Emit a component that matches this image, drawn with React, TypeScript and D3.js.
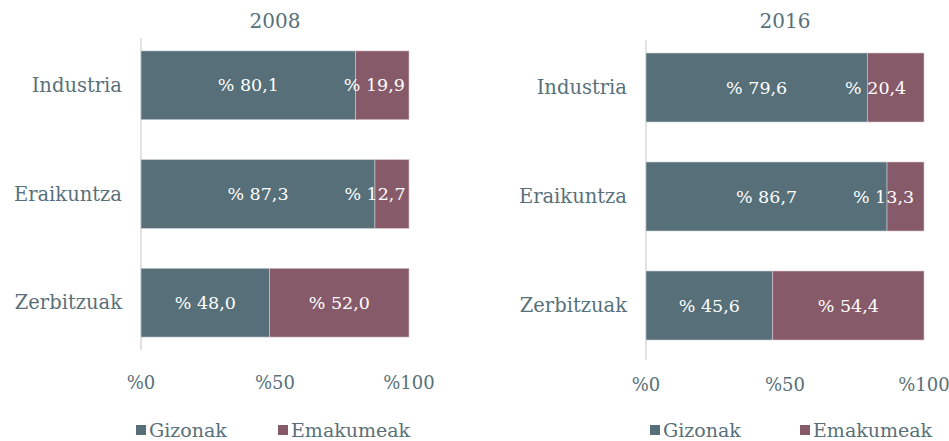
import React from "react";
import * as d3 from "d3";

const categories = ["Industria", "Eraikuntza", "Zerbitzuak"];
const years = ["2008", "2016"];
const men2008 = [80.1, 87.3, 48.0];
const women2008 = [19.9, 12.7, 52.0];
const men2016 = [79.6, 86.7, 45.6];
const women2016 = [20.4, 13.3, 54.4];
const tickValues = [0, 50, 100];
const seriesNames = ["Gizonak", "Emakumeak"];
const colors = ["#566f78", "#875a6a"];
const textColor = "#587079";
const font = "'DejaVu Serif', serif";

const fmt = (v: number) => "% " + v.toFixed(1).replace(".", ",");

type PanelProps = {
  title: string;
  men: number[];
  women: number[];
  labelShift: number[];
  x0: number;
  x1: number;
  yTop: number;
  yBottom: number;
  axisTop: number;
  axisBottom: number;
  tickY: number;
  legendY: number;
  legendX: number[];
};

function Panel(p: PanelProps) {
  const x = d3.scaleLinear().domain([0, 100]).range([p.x0, p.x1]);
  const y = d3.scaleBand().domain(categories).range([p.yTop, p.yBottom]).paddingInner(0.367).paddingOuter(0.2);
  const bh = y.bandwidth();
  return (
    <g>
      <text x={(p.x0 + p.x1) / 2} y={28} textAnchor="middle" fontSize={20} fill={textColor}>{p.title}</text>
      <line x1={p.x0} x2={p.x0} y1={p.axisTop} y2={p.axisBottom} stroke="#d9d9d9" strokeWidth={1.5} />
      {categories.map((c, i) => {
        const yy = y(c)!;
        const m = p.men[i];
        const w = p.women[i];
        return (
          <g key={c}>
            <rect x={x(0)} y={yy} width={x(m) - x(0)} height={bh} fill={colors[0]} stroke="#c9d3d6" strokeWidth={0.6} />
            <rect x={x(m)} y={yy} width={x(m + w) - x(m)} height={bh} fill={colors[1]} stroke="#d8c6cc" strokeWidth={0.6} />
            <text x={(x(0) + x(m)) / 2} y={yy + bh / 2} dy="0.35em" textAnchor="middle" fontSize={17.5} fill="#ffffff">{fmt(m)}</text>
            <text x={(x(m) + x(m + w)) / 2 + p.labelShift[i]} y={yy + bh / 2} dy="0.35em" textAnchor="middle" fontSize={17.5} fill="#ffffff">{fmt(w)}</text>
            <text x={p.x0 - 19} y={yy + bh / 2} dy="0.35em" textAnchor="end" fontSize={19.5} fill={textColor}>{c}</text>
          </g>
        );
      })}
      {tickValues.map((t) => (
        <text key={t} x={x(t)} y={p.tickY} dy="0.35em" textAnchor="middle" fontSize={18} fill={textColor}>{"%" + t}</text>
      ))}
      {seriesNames.map((s, i) => (
        <g key={s}>
          <rect x={p.legendX[i]} y={p.legendY - 5} width={10} height={10} fill={colors[i]} />
          <text x={p.legendX[i] + 13} y={p.legendY} dy="0.35em" fontSize={19} fill={textColor}>{s}</text>
        </g>
      ))}
    </g>
  );
}

export default function App() {
  return (
    <svg width={949} height={441} style={{ position: "absolute", left: 0, top: 0, fontFamily: font, background: "#fff" }}>
      <Panel title={years[0]} men={men2008} women={women2008} labelShift={[-8, -17, 0]} x0={141} x1={409} yTop={29.2} yBottom={358.8}
        axisTop={38} axisBottom={350} tickY={383} legendY={430} legendX={[136, 278]} />
      <Panel title={years[1]} men={men2016} women={women2016} labelShift={[-20, -22, 0]} x0={646} x1={924} yTop={31.2} yBottom={361.8}
        axisTop={40} axisBottom={360} tickY={385} legendY={430} legendX={[650, 800]} />
    </svg>
  );
}
